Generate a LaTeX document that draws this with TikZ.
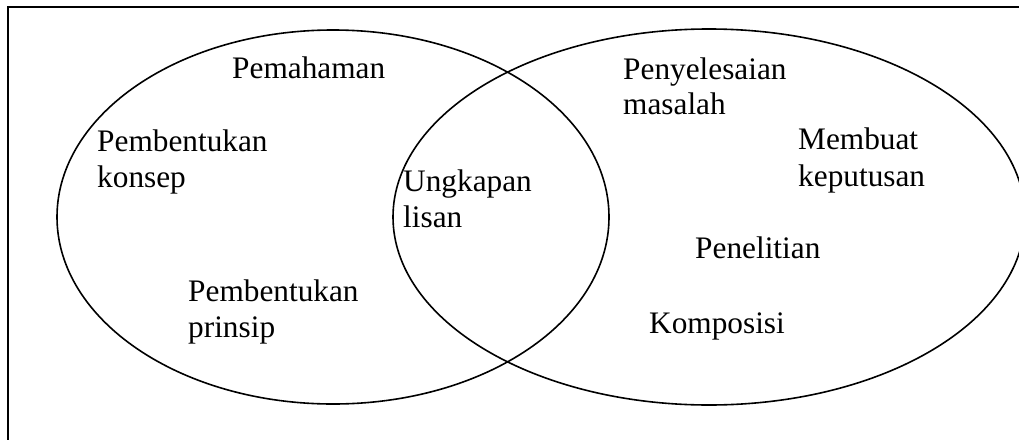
\documentclass[tikz,border=0pt]{standalone}
\usepackage{fontspec}
\setmainfont{Liberation Serif}
\begin{document}
\begin{tikzpicture}[x=1pt,y=-1pt,
  ring/.style={line width=1.6pt},
  frame/.style={line width=2pt},
  lbl/.style={anchor=base west,inner sep=0pt,font=\fontsize{31.3}{36}\selectfont}]
\useasboundingbox (0,0) rectangle (1019,439);
\clip (0,0) rectangle (1019,439);
% frame: top and left edges only
\draw[frame] (1020,7) -- (8,7) -- (8,440);
% the two sets
\draw[ring] (333,217) ellipse [x radius=276,y radius=187];
\draw[ring] (709,217) ellipse [x radius=316,y radius=188];
% left set
\node[lbl] (pem)  at (232,78)  {Pemahaman};
\node[lbl] (pk1)  at (97,151)  {Pembentukan};
\node[lbl] (pk2)  at (97,187)  {konsep};
\node[lbl] (pp1)  at (188,301) {Pembentukan};
\node[lbl] (pp2)  at (188,337) {prinsip};
% overlap
\node[lbl] (ul1)  at (403,191) {Ungkapan};
\node[lbl] (ul2)  at (403,227) {lisan};
% right set
\node[lbl] (pm1)  at (623,79)  {Penyelesaian};
\node[lbl] (pm2)  at (623,114) {masalah};
\node[lbl] (mk1)  at (798,149) {Membuat};
\node[lbl] (mk2)  at (798,186) {keputusan};
\node[lbl] (pen)  at (695,258) {Penelitian};
\node[lbl] (kom)  at (649,333) {Komposisi};
\end{tikzpicture}
\end{document}
